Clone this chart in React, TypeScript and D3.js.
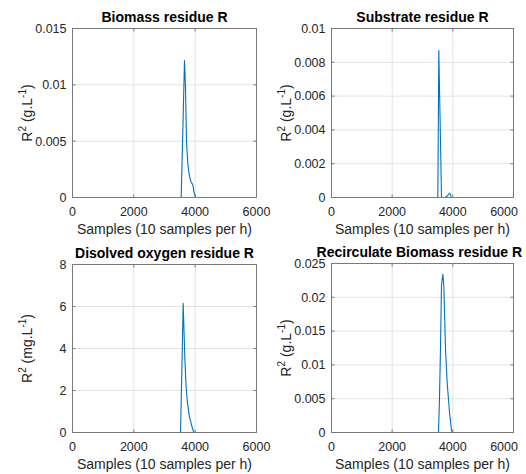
import React, { useEffect, useRef } from 'react';
import * as d3 from 'd3';

// x: sample number, y: squared residue
const biomassSamples = [0, 1000, 2000, 3000, 3544, 3600, 3652, 3685, 3717, 3760, 3802, 3850, 3880, 3900, 3925, 3960, 4011, 5000, 6000];
const biomassResidue = [0, 0, 0, 0, 0, 0.0062, 0.01215, 0.0098, 0.005, 0.003, 0.0021, 0.0015, 0.0013, 0.00124, 0.0011, 0.0005, 0, 0, 0];

const substrateSamples = [0, 1000, 2000, 3000, 3505, 3538, 3627, 3700, 3758, 3850, 3890, 3920, 3946, 5000, 6000];
const substrateResidue = [0, 0, 0, 0, 0, 0.0087, 0, 0, 0, 0.00015, 0.00025, 0.0002, 0, 0, 0];

const oxygenSamples = [0, 1000, 2000, 3000, 3522, 3570, 3609, 3662, 3700, 3740, 3815, 3902, 3957, 5000, 6000];
const oxygenResidue = [0, 0, 0, 0, 0, 3.2, 6.15, 3.6, 2.3, 1.52, 0.73, 0.25, 0, 0, 0];

const recircSamples = [0, 1000, 2000, 3000, 3527, 3560, 3593, 3626, 3670, 3703, 3758, 3813, 3890, 3956, 4000, 5000, 6000];
const recircResidue = [0, 0, 0, 0, 0, 0.005, 0.0124, 0.0217, 0.0234, 0.0217, 0.0124, 0.0074, 0.003, 0.0003, 0, 0, 0];

const xTicks = [0, 2000, 4000, 6000];
const biomassTicks = [0, 0.005, 0.01, 0.015];
const substrateTicks = [0, 0.002, 0.004, 0.006, 0.008, 0.01];
const oxygenTicks = [0, 2, 4, 6, 8];
const recircTicks = [0, 0.005, 0.01, 0.015, 0.02, 0.025];

const FONT = '"Liberation Sans", Arial, Helvetica, sans-serif';
const TEXT = '#262626';
const AXIS = '#7a7a7a';

type PanelProps = {
  title: string;
  unit: string;
  xs: number[];
  ys: number[];
  yTicks: number[];
  box: { left: number; right: number; top: number; bottom: number };
};

// keep text inside the figure, like MATLAB does
const clampRight = (sel: d3.Selection<SVGTextElement, any, any, any>, maxRight: number) => {
  sel.each(function () {
    const bb = this.getBBox();
    const over = bb.x + bb.width - maxRight;
    if (over > 0) {
      const cur = +(this.getAttribute('x') || 0);
      this.setAttribute('x', String(cur - over));
    }
  });
};

const Panel = ({ title, unit, xs, ys, yTicks, box }: PanelProps) => {
  const gRef = useRef<SVGGElement>(null);

  useEffect(() => {
    const g = d3.select(gRef.current);
    g.selectAll('*').remove();

    const x = d3.scaleLinear().domain([0, 6000]).range([box.left, box.right]);
    const y = d3
      .scaleLinear()
      .domain([0, yTicks[yTicks.length - 1]])
      .range([box.bottom, box.top]);

    // grid
    g.selectAll('line.gx')
      .data(xTicks)
      .enter()
      .append('line')
      .attr('x1', d => x(d))
      .attr('x2', d => x(d))
      .attr('y1', box.top)
      .attr('y2', box.bottom)
      .attr('stroke', '#e3e3e3');
    g.selectAll('line.gy')
      .data(yTicks)
      .enter()
      .append('line')
      .attr('x1', box.left)
      .attr('x2', box.right)
      .attr('y1', d => y(d))
      .attr('y2', d => y(d))
      .attr('stroke', '#e3e3e3');

    // data
    const pts = xs.map((v, i) => [v, ys[i]] as [number, number]);
    const line = d3
      .line<[number, number]>()
      .x(d => x(d[0]))
      .y(d => y(d[1]));
    g.append('path')
      .attr('d', line(pts))
      .attr('fill', 'none')
      .attr('stroke', '#0072BD')
      .attr('stroke-width', 1.1)
      .attr('stroke-linejoin', 'round');

    // box
    g.append('rect')
      .attr('x', box.left)
      .attr('y', box.top)
      .attr('width', box.right - box.left)
      .attr('height', box.bottom - box.top)
      .attr('fill', 'none')
      .attr('stroke', AXIS);

    // inward ticks on all sides
    const tl = 3;
    xTicks.forEach(t => {
      g.append('line').attr('x1', x(t)).attr('x2', x(t)).attr('y1', box.bottom).attr('y2', box.bottom - tl).attr('stroke', AXIS);
      g.append('line').attr('x1', x(t)).attr('x2', x(t)).attr('y1', box.top).attr('y2', box.top + tl).attr('stroke', AXIS);
    });
    yTicks.forEach(t => {
      g.append('line').attr('x1', box.left).attr('x2', box.left + tl).attr('y1', y(t)).attr('y2', y(t)).attr('stroke', AXIS);
      g.append('line').attr('x1', box.right).attr('x2', box.right - tl).attr('y1', y(t)).attr('y2', y(t)).attr('stroke', AXIS);
    });

    // tick labels
    const xt = g
      .selectAll('text.xt')
      .data(xTicks)
      .enter()
      .append('text')
      .attr('x', d => x(d))
      .attr('y', box.bottom + 18)
      .attr('text-anchor', 'middle')
      .attr('font-size', 12.5)
      .attr('fill', TEXT)
      .text(d => String(d));
    clampRight(xt as any, 518);
    g.selectAll('text.yt')
      .data(yTicks)
      .enter()
      .append('text')
      .attr('x', box.left - 6)
      .attr('y', d => y(d))
      .attr('dy', '0.35em')
      .attr('text-anchor', 'end')
      .attr('font-size', 12.5)
      .attr('fill', TEXT)
      .text(d => String(d));

    // x label
    g.append('text')
      .attr('x', (box.left + box.right) / 2)
      .attr('y', box.bottom + 36)
      .attr('text-anchor', 'middle')
      .attr('font-size', 14)
      .attr('fill', TEXT)
      .text('Samples (10 samples per h)');

    // y label with superscripts
    const yl = g
      .append('text')
      .attr('transform', `translate(${box.left - 41},${(box.top + box.bottom) / 2}) rotate(-90)`)
      .attr('text-anchor', 'middle')
      .attr('font-size', 14)
      .attr('fill', TEXT);
    yl.append('tspan').text('R');
    yl.append('tspan').attr('font-size', 10).attr('dy', -6).text('2');
    yl.append('tspan').attr('dy', 6).text(` (${unit}.L`);
    yl.append('tspan').attr('font-size', 10).attr('dy', -6).text('-1');
    yl.append('tspan').attr('dy', 6).text(')');

    // title
    const tt = g
      .append('text')
      .attr('x', (box.left + box.right) / 2)
      .attr('y', box.top - 7)
      .attr('text-anchor', 'middle')
      .attr('font-size', 14)
      .attr('font-weight', 'bold')
      .attr('fill', '#000')
      .text(title);
    clampRight(tt as any, 522);
  }, [title, unit, xs, ys, yTicks, box]);

  return <g ref={gRef} />;
};

const App = () => (
  <svg width={526} height={474} style={{ position: 'absolute', left: 0, top: 0, background: '#fff', fontFamily: FONT }}>
    <rect width={526} height={474} fill="#fff" />
    <Panel
      title="Biomass residue R"
      unit="g"
      xs={biomassSamples}
      ys={biomassResidue}
      yTicks={biomassTicks}
      box={{ left: 72.5, right: 256.5, top: 28.5, bottom: 197.5 }}
    />
    <Panel
      title="Substrate residue R"
      unit="g"
      xs={substrateSamples}
      ys={substrateResidue}
      yTicks={substrateTicks}
      box={{ left: 331.5, right: 513.5, top: 28.5, bottom: 197.5 }}
    />
    <Panel
      title="Disolved oxygen residue R"
      unit="mg"
      xs={oxygenSamples}
      ys={oxygenResidue}
      yTicks={oxygenTicks}
      box={{ left: 72.5, right: 256.5, top: 264.5, bottom: 432.5 }}
    />
    <Panel
      title="Recirculate Biomass residue R"
      unit="g"
      xs={recircSamples}
      ys={recircResidue}
      yTicks={recircTicks}
      box={{ left: 331.5, right: 513.5, top: 263.5, bottom: 432.5 }}
    />
  </svg>
);

export default App;
